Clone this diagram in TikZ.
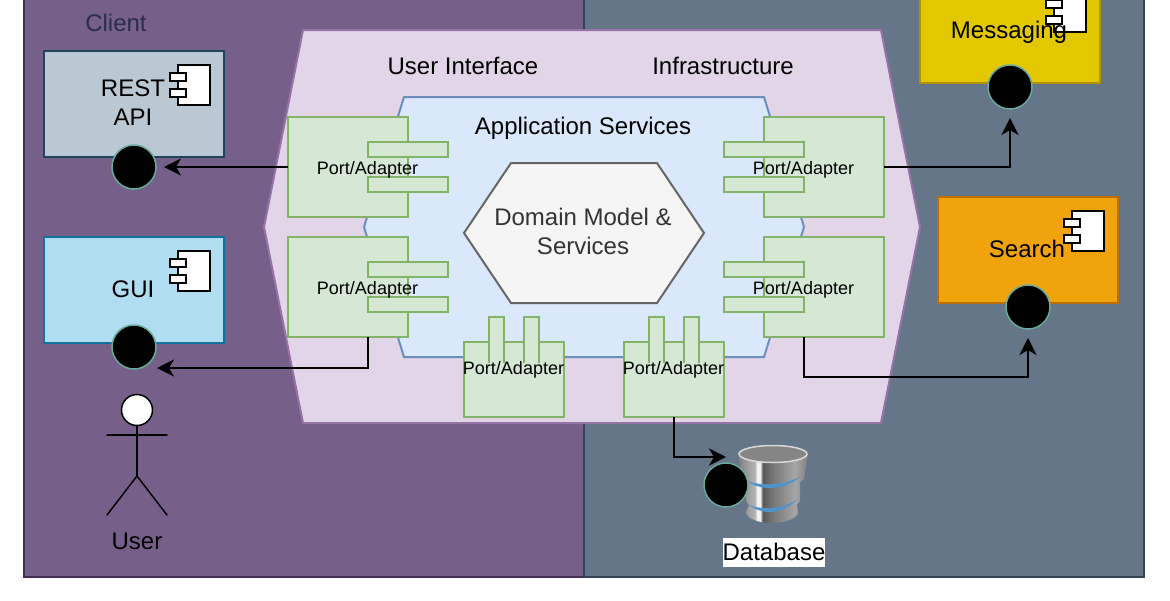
\documentclass[tikz,border=0pt]{standalone}
\usepackage{fontspec}
\setmainfont{Liberation Sans}
\usetikzlibrary{arrows.meta}
\definecolor{clientFill}{HTML}{76608A}
\definecolor{clientLine}{HTML}{432D57}
\definecolor{clientText}{HTML}{2A2D4E}
\definecolor{serverFill}{HTML}{647687}
\definecolor{serverLine}{HTML}{314354}
\definecolor{hexFill}{HTML}{E1D5E7}
\definecolor{hexLine}{HTML}{9673A6}
\definecolor{appFill}{HTML}{DAE8FC}
\definecolor{appLine}{HTML}{6C8EBF}
\definecolor{portFill}{HTML}{D5E8D4}
\definecolor{portLine}{HTML}{82B366}
\definecolor{pointLine}{HTML}{67AB9F}
\definecolor{restFill}{HTML}{BAC8D3}
\definecolor{restLine}{HTML}{23445D}
\definecolor{guiFill}{HTML}{B1DDF0}
\definecolor{guiLine}{HTML}{10739E}
\definecolor{msgFill}{HTML}{E3C800}
\definecolor{msgLine}{HTML}{B09500}
\definecolor{searchFill}{HTML}{F0A30A}
\definecolor{searchLine}{HTML}{BD7000}
\definecolor{bandBlue}{HTML}{4F93CC}
\newcommand{\fs}[1]{\fontsize{#1}{#1}\selectfont}
\pgfdeclarehorizontalshading{dbBody}{100bp}{
	color(0bp)=(black!50); color(25bp)=(black!50); color(33.6bp)=(black!35);
	color(37bp)=(black!30); color(38.6bp)=(black!5); color(40.7bp)=(black!5);
	color(42.8bp)=(black!65); color(51bp)=(black!52); color(65.7bp)=(black!35);
	color(75bp)=(black!50); color(100bp)=(black!50)}

\begin{document}
\begin{tikzpicture}[
		x=1pt,y=-1pt,
		every node/.style={inner sep=0pt,outer sep=0pt},
		Zone/.style={draw=#1,line width=2pt},
		Box/.style={minimum width=180pt,minimum height=106pt,line width=2pt},
		Port/.style={draw=portLine,fill=portFill,line width=2.4pt},
		PortText/.style={font=\fs{18}},
		Label/.style={font=\fs{24}},
		Point/.style={circle,draw=pointLine,fill=black,line width=1.5pt,minimum size=44pt},
		Icon/.style={draw=black,fill=white,line width=1.8pt},
		Conn/.style={draw=black,line width=2pt,-{Stealth[length=17pt,width=17pt,inset=5pt]}},
		Stick/.style={draw=black,line width=1.5pt,line cap=round}
		]

		\useasboundingbox (0,0) rectangle (1170,600);

		% zones
		\begin{scope}
		\clip (0,0) rectangle (1170,600);
		\draw[Zone=clientLine,fill=clientFill] (24,-20) rectangle (584,577);
		\draw[Zone=serverLine,fill=serverFill] (584,-20) rectangle (1144,577);
		\end{scope}
		\node[Label,text=clientText] (client) at (116,23) {Client};

		% hexagons
		\draw[draw=hexLine,fill=hexFill,line width=2pt] (303,30)--(881,30)--(920,227)--(881,423)--(303,423)--(264,227)--cycle;
		\node[Label] (ui) at (463,66) {User Interface};
		\node[Label] (infra) at (723,66) {Infrastructure};
		\draw[draw=appLine,fill=appFill,line width=2pt] (404,97)--(764,97)--(804,227)--(764,357)--(404,357)--(364,227)--cycle;
		\node[Label] (app) at (583,128) {Application Services};
		\draw[draw=black!60,fill=black!4,line width=2pt] (464,233)--(511,163)--(657,163)--(704,233)--(657,303)--(511,303)--cycle;
		\node[Label,text=black!80,align=center] (domain) at (583,231) {Domain Model \&\\[5pt]Services};

		% outside boxes
		\node[Box,draw=restLine,fill=restFill] (rest) at (134,104) {};
		\node[Box,draw=guiLine,fill=guiFill] (gui) at (134,290) {};
		\node[Box,draw=msgLine,fill=msgFill] (msg) at (1010,30) {};
		\node[Box,draw=searchLine,fill=searchFill] (search) at (1028,250) {};

		% component icons, given by the left edge and top of the body
		\foreach \X/\Y in {178/65,178/251,1054/-8,1072/211}{
			\draw[Icon] (\X,\Y) rectangle (\X+32,\Y+40);
			\draw[Icon] (\X-8,\Y+8) rectangle (\X+8,\Y+16);
			\draw[Icon] (\X-8,\Y+24) rectangle (\X+8,\Y+32);
		}

		\node[Label,align=center] (restText) at (133,102.5) {REST\\[5pt]API};
		\node[Label] (guiText) at (133,289) {GUI};
		\node[Label] (msgText) at (1009,32) {Messaging};
		\node[Label] (searchText) at (1027,249) {Search};

		% interface points
		\node[Point] (restPoint) at (134,167) {};
		\node[Point] (guiPoint) at (134,347) {};
		\node[Point] (msgPoint) at (1010,87) {};
		\node[Point] (searchPoint) at (1028,307) {};

		% ports on the left and right side
		\foreach \Name/\X/\Y/\Tab in {portA/288/117/368,portB/288/237/368,portC/764/117/724,portD/764/237/724}{
			\node[Port,minimum width=120pt,minimum height=100pt] (\Name) at (\X+60,\Y+50) {};
			\draw[Port] (\Tab,\Y+25) rectangle (\Tab+80,\Y+40);
			\draw[Port] (\Tab,\Y+60) rectangle (\Tab+80,\Y+75);
		}
		% ports at the bottom
		\foreach \Name/\X in {portE/464,portF/624}{
			\node[Port,minimum width=100pt,minimum height=75pt] (\Name) at (\X+50,379.5) {};
			\draw[Port] (\X+25,363) -- (\X+25,317) -- (\X+40,317) -- (\X+40,363);
			\draw[Port] (\X+60,363) -- (\X+60,317) -- (\X+75,317) -- (\X+75,363);
		}
		\node[PortText] (portAText) at (367.5,170) {Port/Adapter};
		\node[PortText] (portBText) at (367.5,290) {Port/Adapter};
		\node[PortText] (portCText) at (803.5,170) {Port/Adapter};
		\node[PortText] (portDText) at (803.5,290) {Port/Adapter};
		\node[PortText] (portEText) at (513.5,370) {Port/Adapter};
		\node[PortText] (portFText) at (673.5,370) {Port/Adapter};

		% database
		\shade[shading=dbBody] (738,454) -- (743,479) -- (746,482) -- (746,501) -- (749,505) -- (746,512)
			arc[start angle=180,end angle=0,x radius=26,y radius=11] -- (797,505) -- (800,501) -- (800,482) -- (804,479) -- (808,454) -- cycle;
		\fill[bandBlue] (747,481) .. controls (760,486) and (785,486) .. (801,476) .. controls (785,491) and (760,491) .. (747,481);
		\fill[bandBlue] (749,505) .. controls (762,510) and (782,510) .. (798,499) .. controls (782,515) and (762,515) .. (749,505);
		\draw[draw=black!15,fill=black!48,line width=1.5pt] (773,454) ellipse[x radius=34,y radius=8.5];
		\node[Point] (dbPoint) at (726,485) {};
		\node[Label,fill=white,minimum width=102pt,minimum height=29pt] (dbText) at (774,552) {Database};

		% user
		\node[circle,draw=black,fill=white,line width=1.5pt,minimum size=31pt] (head) at (137,410) {};
		\coordinate (hip) at (137,476);
		\coordinate (armL) at (107,435);
		\coordinate (armR) at (167,435);
		\coordinate (footL) at (107,515);
		\coordinate (footR) at (167,515);
		\draw[Stick] (head.south) -- (hip);
		\draw[Stick] (armL) -- (armR);
		\draw[Stick] (footL) -- (hip) -- (footR);
		\node[Label] (userText) at (137,541) {User};

		% connectors
		\coordinate (restTip) at (164,167);
		\coordinate (guiOut) at (368,337);
		\coordinate (guiTip) at (157,368);
		\coordinate (msgTip) at (1010,118);
		\coordinate (searchOut) at (804,337);
		\coordinate (searchTip) at (1028,338);
		\coordinate (dbTip) at (726,457);
		\draw[Conn] (portA.west |- restTip) -- (restTip);
		\draw[Conn] (guiOut) |- (guiTip);
		\draw[Conn] (portC.east |- 0,167) -| (msgTip);
		\draw[Conn] (searchOut) |- (searchTip |- 0,377) -- (searchTip);
		\draw[Conn] (portF.south) |- (dbTip);

		\end{tikzpicture}
\end{document}
